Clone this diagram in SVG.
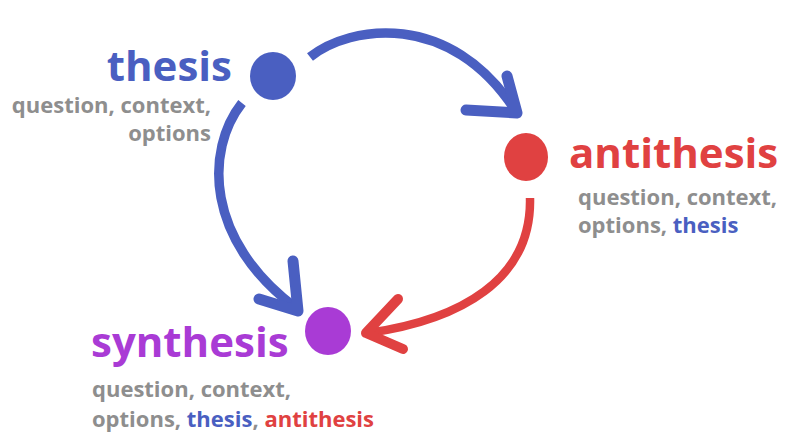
<svg xmlns="http://www.w3.org/2000/svg" width="800" height="440" viewBox="0 0 800 440">
<style>
.t{font-family:"Open Sans","Liberation Sans",sans-serif;font-weight:700}
.big{font-size:42px}
.sm{font-size:22px;fill:#8e8e8e}
.blue{fill:#4a5fc1}
.red{fill:#e04141}
.purple{fill:#a93bd5}
.shaft{fill:none;stroke-linecap:butt;stroke-linejoin:round}
.head{fill:none;stroke-linecap:round;stroke-linejoin:round}
</style>
<rect width="800" height="440" fill="#ffffff"/>
<g id="connectors">
<g id="thesis-to-antithesis" stroke="#4a5fc1">
<path class="shaft" stroke-width="9.5" d="M310,57 C350,25 450,10 515,110"/>
<path class="head" stroke-width="11" d="M507,76 L517,113 L466,110"/>
</g>
<g id="thesis-to-synthesis" stroke="#4a5fc1">
<path class="shaft" stroke-width="9.5" d="M242,103 C205,150 205,240 296,308"/>
<path class="head" stroke-width="11" d="M293,261 L298,311 L259,299"/>
</g>
<g id="antithesis-to-synthesis" stroke="#e04141">
<path class="shaft" stroke-width="8.5" d="M530,198 C532,280 460,320 368,333"/>
<path class="head" stroke-width="10" d="M398,299 L366,333 L403,349"/>
</g>
</g>
<g id="thesis">
<ellipse cx="273" cy="76" rx="23" ry="24" class="blue"/>
<text class="t big blue" x="232" y="81" text-anchor="end">thesis</text>
<text class="t sm" x="211" y="113" text-anchor="end">question, context,</text>
<text class="t sm" x="211" y="141" text-anchor="end">options</text>
</g>
<g id="antithesis">
<ellipse cx="526" cy="157" rx="22" ry="24" class="red"/>
<text class="t big red" x="569" y="168">antithesis</text>
<text class="t sm" x="578" y="205">question, context,</text>
<text class="t sm" x="578" y="233">options, <tspan class="blue">thesis</tspan></text>
</g>
<g id="synthesis">
<ellipse cx="328" cy="331" rx="23" ry="24" class="purple"/>
<text class="t big purple" x="91" y="357">synthesis</text>
<text class="t sm" x="92" y="397">question, context,</text>
<text class="t sm" x="92" y="427">options, <tspan class="blue">thesis</tspan>, <tspan class="red">antithesis</tspan></text>
</g>
</svg>
